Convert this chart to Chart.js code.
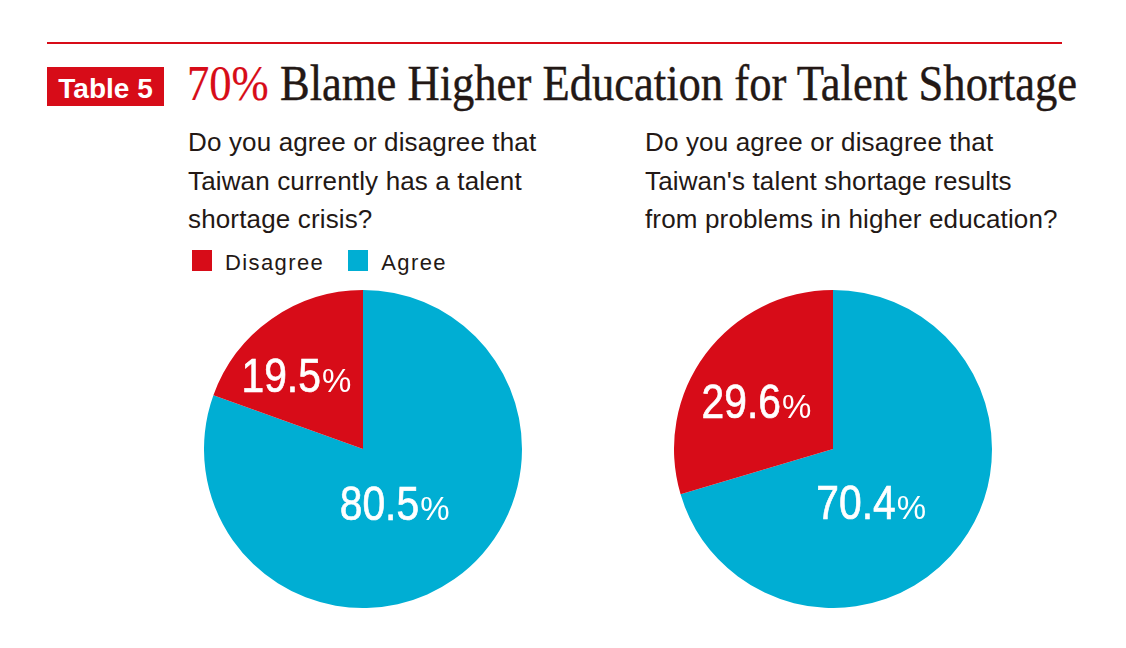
<!DOCTYPE html>
<html>
<head>
<meta charset="utf-8">
<script src="https://cdn.jsdelivr.net/npm/chart.js@4.4.0/dist/chart.umd.min.js"></script>
<style>
  body { margin: 0; background: #fff; }
  #page { position: relative; width: 1126px; height: 648px; overflow: hidden; font-family: "Liberation Sans", Arial, sans-serif; color: #231815; }
  .rule { position: absolute; left: 47px; top: 42px; width: 1015px; height: 2px; background: #d70c18; }
  .tag { position: absolute; left: 47px; top: 67px; width: 117px; height: 37px; padding-top: 2px; background: #d70c18; color: #fff; font-weight: bold; font-size: 28px; line-height: 39px; text-align: center; }
  #title { position: absolute; left: 187px; top: 58px; font-family: "Liberation Serif", "Times New Roman", serif; font-size: 50px; line-height: 50px; white-space: nowrap; transform-origin: 0 0; -webkit-text-stroke: 0.4px #231815; }
  #title .hl { color: #d70c18; -webkit-text-stroke: 0.2px #d70c18; }
  .question { position: absolute; top: 123px; font-size: 26px; line-height: 38.5px; letter-spacing: 0.15px; white-space: nowrap; }
  #legend { position: absolute; left: 192px; top: 250px; height: 22px; display: flex; font-size: 22px; line-height: 22px; letter-spacing: 1.4px; }
  #legend .item { display: flex; margin-right: 24px; }
  #legend .box { width: 20px; height: 21px; margin-right: 13px; }
  #legend .txt { position: relative; top: 2px; }
  canvas { position: absolute; top: 290px; }
</style>
</head>
<body>
<div id="page">
  <div class="rule"></div>
  <div class="tag">Table 5</div>
  <div id="title"><span class="hl">70%</span> Blame Higher Education for Talent Shortage</div>
  <div class="question" style="left:188px">Do you agree or disagree that<br>Taiwan currently has a talent<br>shortage crisis?</div>
  <div class="question" style="left:645px">Do you agree or disagree that<br>Taiwan's talent shortage results<br>from problems in higher education?</div>
  <div id="legend"></div>
  <canvas id="pieCrisis" width="318" height="318" style="left:204px"></canvas>
  <canvas id="pieHigherEd" width="318" height="318" style="left:674px"></canvas>
</div>
<script>
// answers, drawn clockwise from 12 o'clock
const answers = ['Agree', 'Disagree'];
const answerColors = ['#00aed3', '#d70c18'];

// Q1: talent shortage crisis?
const crisisValues = [80.5, 19.5];
// Q2: shortage caused by higher education?
const higherEdValues = [70.4, 29.6];

// squeeze the serif title to the width of the print version
let title = document.getElementById('title');
title.style.transform = 'scaleX(' + (890 / title.scrollWidth) + ')';

// legend goes Disagree first, like the original
let legend = document.getElementById('legend');
for (let i = answers.length - 1; i >= 0; i--) {
    let item = document.createElement('div');
    item.className = 'item';
    item.innerHTML = '<div class="box" style="background:' + answerColors[i] + '"></div><span class="txt">' + answers[i] + '</span>';
    legend.appendChild(item);
}

// white value labels inside the slices (condensed number + small %)
const sliceLabels = {
    id: 'sliceLabels',
    afterDatasetsDraw(chart, args, opts) {
        let ctx = chart.ctx;
        let values = chart.data.datasets[0].data;
        chart.getDatasetMeta(0).data.forEach(function(arc, i) {
            let place = opts.place[i];
            let mid = (arc.startAngle + arc.endAngle) / 2 + place.shift * Math.PI / 180;
            let cx = arc.x + Math.cos(mid) * arc.outerRadius * place.r;
            let cy = arc.y + Math.sin(mid) * arc.outerRadius * place.r;
            let num = values[i].toFixed(1);

            ctx.save();
            ctx.fillStyle = '#fff';
            ctx.strokeStyle = '#fff';
            ctx.textBaseline = 'alphabetic';
            ctx.textAlign = 'left';
            ctx.font = '48px "Liberation Sans"';
            let nw = ctx.measureText(num).width * 0.85;
            ctx.font = '33px "Liberation Sans"';
            let pw = ctx.measureText('%').width;
            let x0 = cx - (nw + pw) / 2;
            let base = cy + 17;

            ctx.save();
            ctx.translate(x0, base);
            ctx.scale(0.85, 1);
            ctx.font = '48px "Liberation Sans"';
            ctx.lineWidth = 0.7;
            ctx.fillText(num, 0, 0);
            ctx.strokeText(num, 0, 0);
            ctx.restore();

            ctx.font = '33px "Liberation Sans"';
            ctx.fillText('%', x0 + nw + 1, base);
            ctx.restore();
        });
    }
};

function makePie(id, values, place) {
    new Chart(id, {
        type: 'pie',
        data: {
            labels: answers,
            datasets: [{
                data: values,
                backgroundColor: answerColors,
                borderWidth: 0
            }]
        },
        options: {
            responsive: false,
            animation: false,
            layout: { padding: 0 },
            plugins: {
                legend: { display: false },
                tooltip: { enabled: false },
                sliceLabels: { place: place }
            }
        },
        plugins: [sliceLabels]
    });
}

makePie('pieCrisis', crisisValues, [{ r: 0.39, shift: 5 }, { r: 0.63, shift: -7 }]);
makePie('pieHigherEd', higherEdValues, [{ r: 0.41, shift: 18 }, { r: 0.57, shift: -5 }]);
</script>
</body>
</html>
